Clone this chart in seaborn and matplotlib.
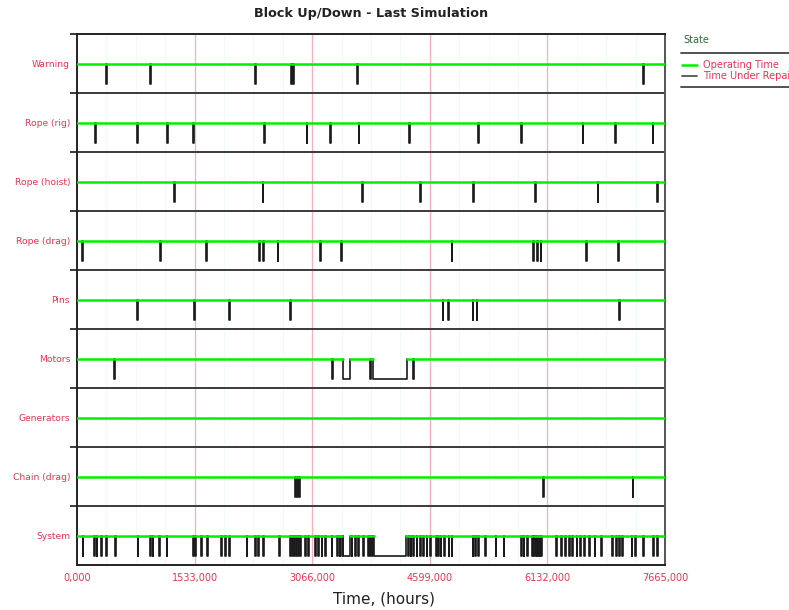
import numpy as np
import pandas as pd
import matplotlib.pyplot as plt
from matplotlib.lines import Line2D
import seaborn as sns

sns.set_style("white")
plt.rcParams['font.family'] = ['DejaVu Sans']

# data (hours)
T_END = 7665.0
xticks = [0, 1533, 3066, 4599, 6132, 7665]
rows = ["Warning", "Rope (rig)", "Rope (hoist)", "Rope (drag)", "Pins",
        "Motors", "Generators", "Chain (drag)", "System"]

repair_h = 10  # short repairs, about one pixel wide

warning = [378, 952, 2320, 2796, 2822, 3650, 7378]
rope_rig = [235, 786, 1173, 1516, 2444, 2994, 3298, 3672, 4328, 5224, 5788,
            6592, 7013, 7505]
rope_hoist = [1264, 2421, 3719, 4471, 5166, 5971, 6788, 7565]
rope_drag = [69, 1079, 1682, 2376, 2428, 2616, 3168, 3438, 4884, 5941, 5993,
             6045, 6636, 7057]
pins = [786, 1529, 1986, 2777, 4767, 4840, 5158, 5210, 7069]
motors = [482, 3324, 3820, 4380]
generators = []
chain_drag = [2842, 2868, 2894, 6079, 7244]
system = [74, 226, 257, 313, 378, 495, 791, 952, 987, 1073, 1169, 1516, 1538,
          1620, 1699, 1877, 1929, 1985, 2212, 2320, 2363, 2429, 2637, 2777,
          2803, 2829, 2855, 2881, 2907, 2972, 3015, 3103, 3146, 3190, 3233,
          3320, 3389, 3422, 3454, 3581, 3624, 3667, 3732, 3793, 3820, 3846,
          4319, 4350, 4384, 4428, 4471, 4514, 4559, 4602, 4684, 4712, 4741,
          4784, 4843, 4884, 5158, 5188, 5231, 5319, 5457, 5560, 5791, 5823,
          5866, 5931, 5950, 5970, 5990, 6010, 6030, 6050, 6248, 6307, 6361,
          6414, 6459, 6512, 6557, 6609, 6674, 6746, 6831, 6975, 7030, 7065,
          7101, 7231, 7274, 7382, 7509, 7567]

long_repairs = {"Motors": [(3468, 3559), (3859, 4296)],
                "System": [(3468, 3559), (3872, 4289)]}

starts = dict(zip(rows, [warning, rope_rig, rope_hoist, rope_drag, pins,
                         motors, generators, chain_drag, system]))

# build up/down paths
green_pts, black_pts = [], []
seg = 0
for i, name in enumerate(rows):
    base = len(rows) - 1 - i
    up, down = base + 0.5, base + 0.16
    ivs = sorted([(s, s + repair_h) for s in starts[name]] + long_repairs.get(name, []))
    t0 = 0.0
    for s, e in ivs:
        green_pts += [(seg, t0, up), (seg, s, up)]
        seg += 1
        black_pts += [(seg, s, up), (seg, s, down), (seg, e, down), (seg, e, up)]
        seg += 1
        t0 = e
    green_pts += [(seg, t0, up), (seg, T_END, up)]
    seg += 1

green_df = pd.DataFrame(green_pts, columns=["seg", "t", "y"])
black_df = pd.DataFrame(black_pts, columns=["seg", "t", "y"])

RED = '#e8344e'
fig = plt.figure(figsize=(7.89, 6.10), dpi=100)
ax = fig.add_axes([77 / 789, 1 - 565 / 610, 588 / 789, 531 / 610])

# grid
for x in xticks[1:-1]:
    ax.axvline(x, color='#f7b0b7', lw=0.9, zorder=0)
for x in np.arange(383.25, T_END, 383.25):
    if min(abs(x - np.array(xticks))) > 1:
        ax.axvline(x, color='#f1faf4', lw=0.8, zorder=0)
for k in range(1, len(rows)):
    ax.axhline(k, color='#3a3a3a', lw=1.4, zorder=1)

sns.lineplot(data=black_df, x="t", y="y", units="seg", estimator=None,
             sort=False, color='#1a1a1a', lw=1.2, ax=ax, zorder=2)
sns.lineplot(data=green_df, x="t", y="y", units="seg", estimator=None,
             sort=False, color='#00f000', lw=1.8, ax=ax, zorder=3)

ax.set_xlim(0, T_END)
ax.set_ylim(0, len(rows))
ax.set_xticks(xticks)
ax.set_xticklabels([f"{x},000" for x in xticks], color=RED, fontsize=7)
ax.tick_params(axis='x', length=0, pad=6)
ax.set_yticks([len(rows) - 1 - i + 0.5 for i in range(len(rows))])
ax.set_yticklabels(rows, color=RED, fontsize=6.6)
ax.tick_params(axis='y', which='major', length=0, pad=5)
ax.set_yticks(range(1, len(rows) + 1), minor=True)
ax.tick_params(axis='y', which='minor', length=5, width=1.4, color='#3a3a3a', left=True)

for side in ['left', 'top', 'bottom']:
    ax.spines[side].set_color('#222222')
    ax.spines[side].set_linewidth(1.4)
ax.spines['right'].set_color('#555555')
ax.spines['right'].set_linewidth(1.4)

ax.set_ylabel("")
ax.set_xlabel("Time, (hours)", fontsize=11, color='#222222', labelpad=6)
ax.xaxis.set_label_coords(0.522, -0.05)
fig.text(371 / 789, 1 - 14 / 610, "Block Up/Down - Last Simulation",
         ha='center', va='center', fontsize=9.2, fontweight='bold', color='#222222')

# legend panel at the right
def px(x, y):
    return x / 789, 1 - y / 610

fig.text(*px(683, 40), "State", fontsize=7, color='#2e6b3a', va='center')
for yy in (53, 87):
    fig.add_artist(Line2D([681 / 789, 1], [px(0, yy)[1]] * 2, color='#444444', lw=1.3))
fig.add_artist(Line2D([682 / 789, 697 / 789], [px(0, 65)[1]] * 2, color='#00f000', lw=1.8))
fig.add_artist(Line2D([682 / 789, 697 / 789], [px(0, 76)[1]] * 2, color='#555555', lw=1.3))
fig.text(*px(703, 65), "Operating Time", fontsize=7, color=RED, va='center')
fig.text(*px(703, 76), "Time Under Repair", fontsize=7, color=RED, va='center')

fig.savefig("out.png", dpi=100)
